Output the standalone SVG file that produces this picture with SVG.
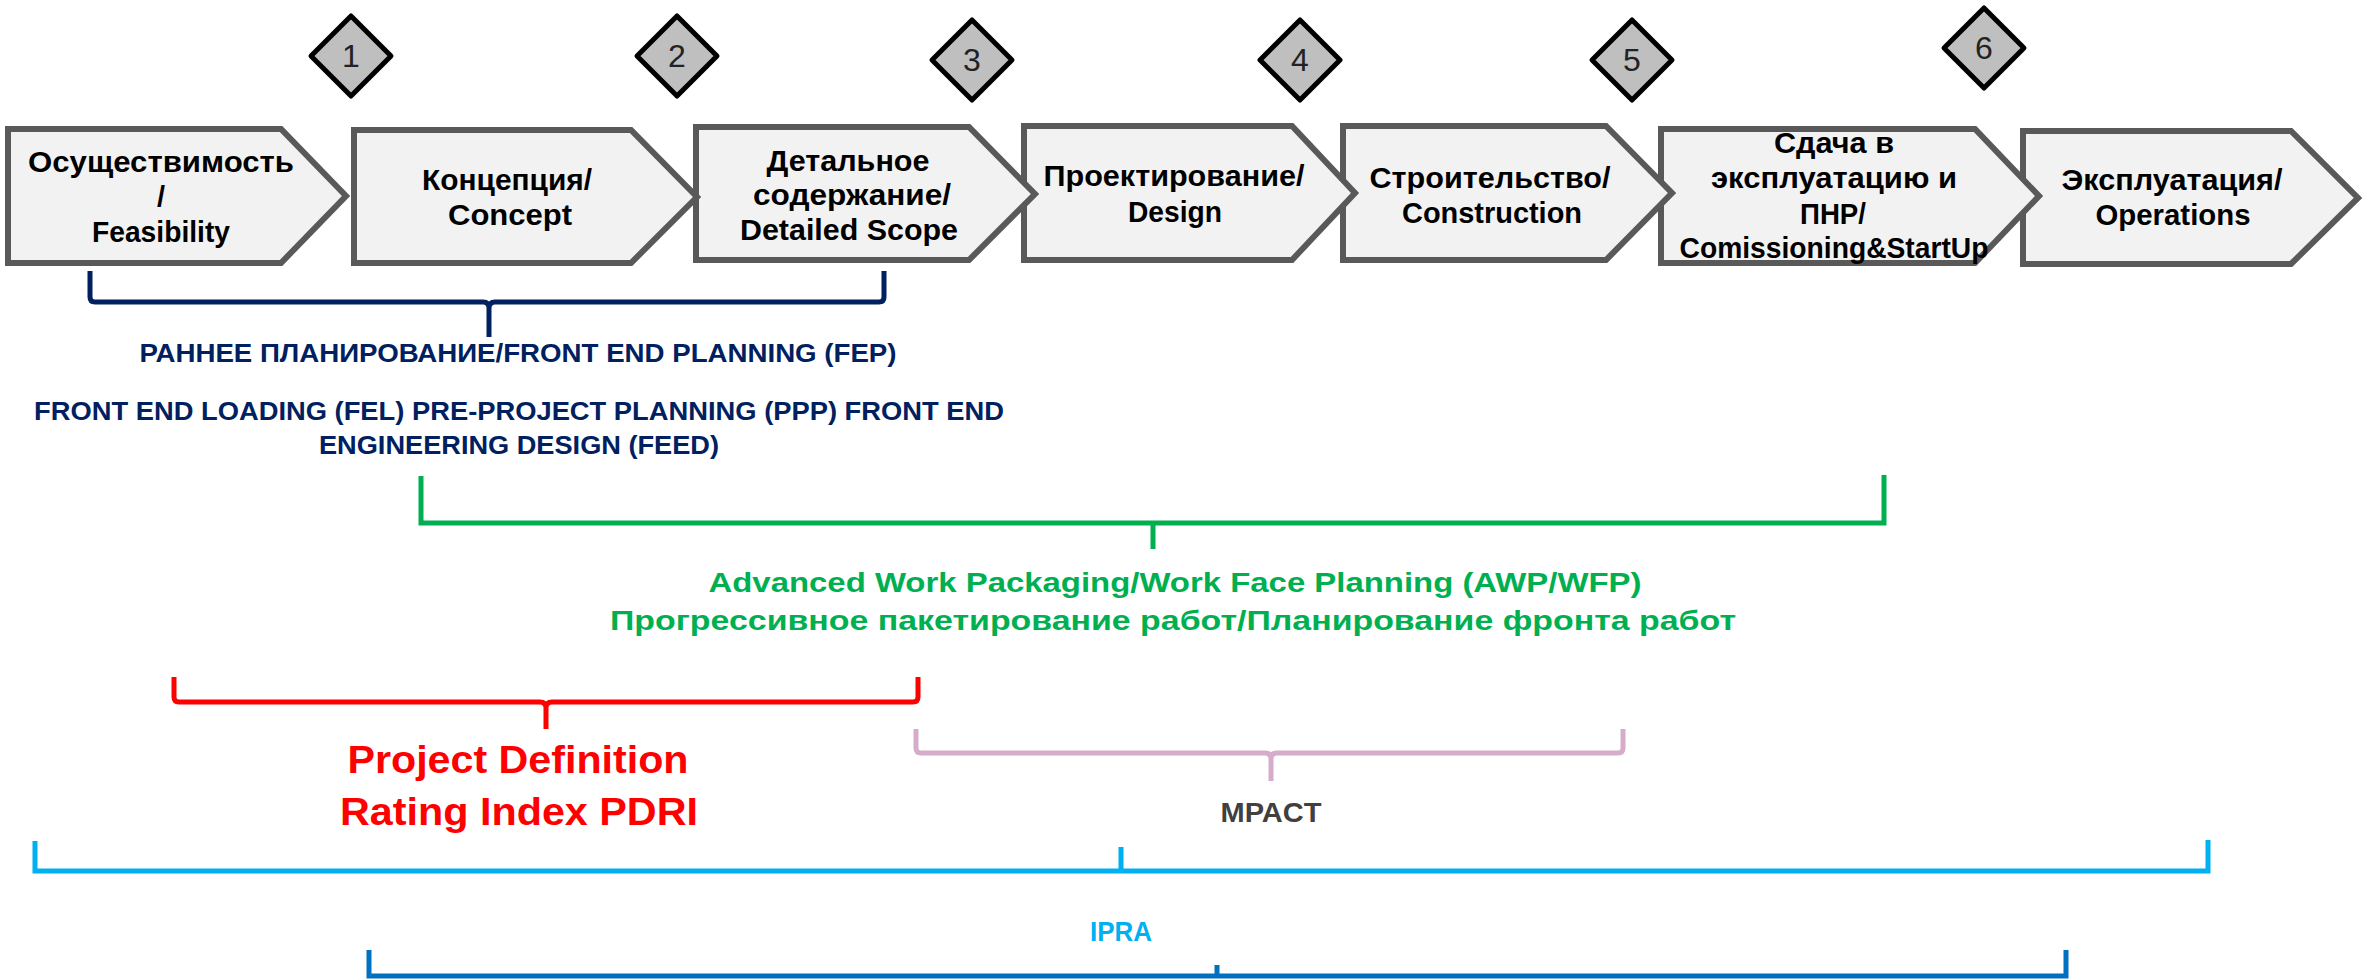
<svg xmlns="http://www.w3.org/2000/svg" width="2369" height="980" viewBox="0 0 2369 980">
<style>
.chev{fill:#F2F2F2;stroke:#595959;stroke-width:6;stroke-linejoin:miter}
.dia{fill:#BFBFBF;stroke:#000;stroke-width:5;stroke-linejoin:round}
.num{font-family:"Liberation Sans Narrow","Liberation Sans",sans-serif;font-size:32px;fill:#222;text-anchor:middle}
.ct{font-family:"Liberation Sans",Arial,sans-serif;font-weight:bold;font-size:29px;fill:#000;text-anchor:middle}
.lbl{font-family:"Liberation Sans",Arial,sans-serif;font-weight:bold;text-anchor:middle}
.br{fill:none;stroke-width:5;stroke-linecap:butt;stroke-linejoin:miter}
</style>
<rect width="2369" height="980" fill="#fff"/>

<g id="phase7">
<polygon class="chev" points="2023,131 2291,131 2358,198 2291,264 2023,264"/>
<text class="ct" x="2172" y="190" textLength="221" lengthAdjust="spacingAndGlyphs">Эксплуатация/</text>
<text class="ct" x="2173" y="225" textLength="155" lengthAdjust="spacingAndGlyphs">Operations</text>
</g>
<g id="phase6">
<polygon class="chev" points="1661,129 1975,129 2039,196 1975,263 1661,263"/>
<text class="ct" x="1834" y="153" textLength="120" lengthAdjust="spacingAndGlyphs">Сдача в</text>
<text class="ct" x="1834" y="188" textLength="246" lengthAdjust="spacingAndGlyphs">эксплуатацию и</text>
<text class="ct" x="1833" y="224" textLength="66" lengthAdjust="spacingAndGlyphs">ПНР/</text>
<text class="ct" x="1834" y="258" textLength="309" lengthAdjust="spacingAndGlyphs">Comissioning&amp;StartUp</text>
</g>
<g id="phase5">
<polygon class="chev" points="1343,126 1606,126 1672,193 1606,260 1343,260"/>
<text class="ct" x="1490" y="188" textLength="241" lengthAdjust="spacingAndGlyphs">Строительство/</text>
<text class="ct" x="1492" y="223" textLength="180" lengthAdjust="spacingAndGlyphs">Construction</text>
</g>
<g id="phase4">
<polygon class="chev" points="1024,126 1292,126 1355,193 1292,260 1024,260"/>
<text class="ct" x="1174" y="186" textLength="261" lengthAdjust="spacingAndGlyphs">Проектирование/</text>
<text class="ct" x="1175" y="222" textLength="94" lengthAdjust="spacingAndGlyphs">Design</text>
</g>
<g id="phase3">
<polygon class="chev" points="696,127 969,127 1035,194 969,260 696,260"/>
<text class="ct" x="848" y="171" textLength="163" lengthAdjust="spacingAndGlyphs">Детальное</text>
<text class="ct" x="852" y="205" textLength="198" lengthAdjust="spacingAndGlyphs">содержание/</text>
<text class="ct" x="849" y="240" textLength="218" lengthAdjust="spacingAndGlyphs">Detailed Scope</text>
</g>
<g id="phase2">
<polygon class="chev" points="354,130 631,130 697,197 631,263 354,263"/>
<text class="ct" x="507" y="190" textLength="170" lengthAdjust="spacingAndGlyphs">Концепция/</text>
<text class="ct" x="510" y="225" textLength="124" lengthAdjust="spacingAndGlyphs">Concept</text>
</g>
<g id="phase1">
<polygon class="chev" points="8,129 281,129 346,196 281,263 8,263"/>
<text class="ct" x="161" y="172" textLength="266" lengthAdjust="spacingAndGlyphs">Осуществимость</text>
<text class="ct" x="161" y="207">/</text>
<text class="ct" x="161" y="242" textLength="138" lengthAdjust="spacingAndGlyphs">Feasibility</text>
</g>

<g id="gate1"><polygon class="dia" points="351,16 391,56 351,96 311,56"/><text class="num" x="351" y="67">1</text></g>
<g id="gate2"><polygon class="dia" points="677,16 717,56 677,96 637,56"/><text class="num" x="677" y="67">2</text></g>
<g id="gate3"><polygon class="dia" points="972,20 1012,60 972,100 932,60"/><text class="num" x="972" y="71">3</text></g>
<g id="gate4"><polygon class="dia" points="1300,20 1340,60 1300,100 1260,60"/><text class="num" x="1300" y="71">4</text></g>
<g id="gate5"><polygon class="dia" points="1632,20 1672,60 1632,100 1592,60"/><text class="num" x="1632" y="71">5</text></g>
<g id="gate6"><polygon class="dia" points="1984,8 2024,48 1984,88 1944,48"/><text class="num" x="1984" y="59">6</text></g>

<g id="connectors">
<path class="br" stroke="#002060" d="M90,271 V297 Q90,302 95,302 H483 Q489,302 489,308 V337 M489,308 Q489,302 495,302 H879 Q884,302 884,297 V271"/>
<path class="br" stroke="#00B050" d="M421,476 V523 H1884 V475 M1153,523 V549"/>
<path class="br" stroke="#FF0000" d="M174,677 V697 Q174,702 179,702 H540 Q546,702 546,708 V729 M546,708 Q546,702 552,702 H913 Q918,702 918,697 V677"/>
<path class="br" stroke="#D5ACC9" d="M916,729 V748 Q916,753 921,753 H1265 Q1271,753 1271,759 V781 M1271,759 Q1271,753 1277,753 H1618 Q1623,753 1623,748 V729"/>
<path class="br" stroke="#00B0F0" d="M35,841 V871 H2208 V840 M1121,847 V871"/>
<path class="br" stroke="#0070C0" stroke-width="4" d="M369,950 V976 H2066 V950 M1217,965 V976"/>
</g>

<g id="label-fep">
<text class="lbl" x="518" y="362" font-size="25" fill="#002060" textLength="757" lengthAdjust="spacingAndGlyphs">РАННЕЕ ПЛАНИРОВАНИЕ/FRONT END PLANNING (FEP)</text>
<text class="lbl" x="519" y="420" font-size="25" fill="#002060" textLength="970" lengthAdjust="spacingAndGlyphs">FRONT END LOADING (FEL) PRE-PROJECT PLANNING (PPP)  FRONT END</text>
<text class="lbl" x="519" y="454" font-size="25" fill="#002060" textLength="400" lengthAdjust="spacingAndGlyphs">ENGINEERING DESIGN (FEED)</text>
</g>
<g id="label-awp">
<text class="lbl" x="1175" y="592" font-size="28" fill="#00B050" textLength="933" lengthAdjust="spacingAndGlyphs">Advanced Work Packaging/Work Face Planning (AWP/WFP)</text>
<text class="lbl" x="1173" y="630" font-size="28" fill="#00B050" textLength="1126" lengthAdjust="spacingAndGlyphs">Прогрессивное пакетирование работ/Планирование фронта работ</text>
</g>
<g id="label-pdri">
<text class="lbl" x="518" y="773" font-size="38" fill="#FF0000" textLength="341" lengthAdjust="spacingAndGlyphs">Project Definition</text>
<text class="lbl" x="519" y="825" font-size="38" fill="#FF0000" textLength="358" lengthAdjust="spacingAndGlyphs">Rating Index PDRI</text>
</g>
<g id="label-mpact">
<text class="lbl" x="1271" y="822" font-size="27" fill="#404040" textLength="101" lengthAdjust="spacingAndGlyphs">MPACT</text>
</g>
<g id="label-ipra">
<text class="lbl" x="1121" y="941" font-size="28" fill="#00B0F0" textLength="62" lengthAdjust="spacingAndGlyphs">IPRA</text>
</g>
</svg>
